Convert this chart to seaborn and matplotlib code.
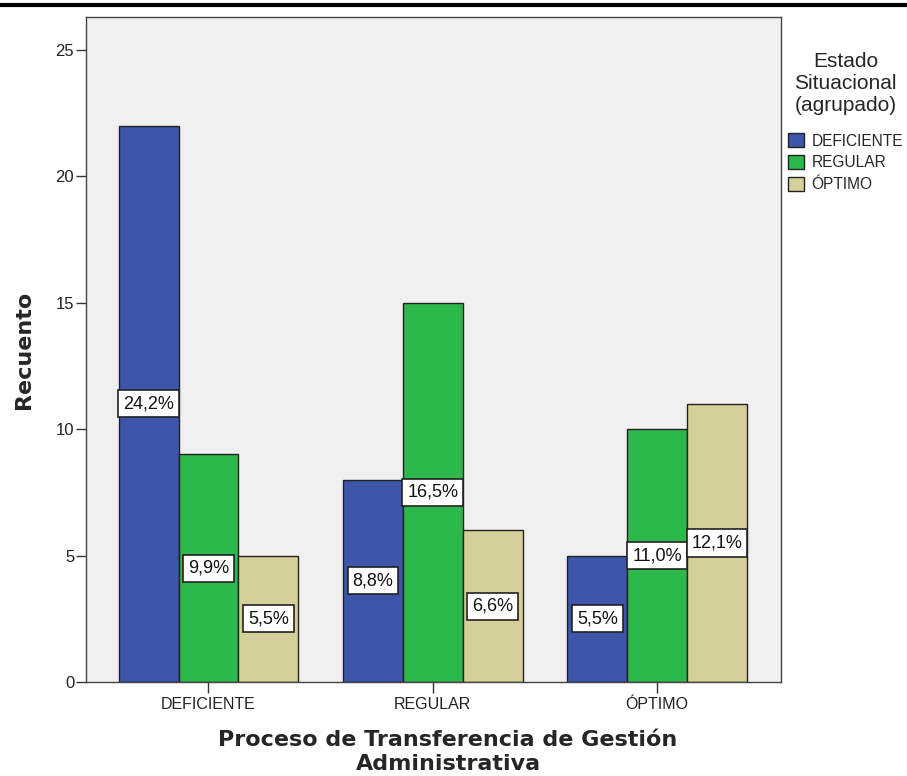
import pandas as pd
import numpy as np
import matplotlib
matplotlib.use("Agg")
import matplotlib.pyplot as plt
import seaborn as sns
from matplotlib.lines import Line2D

# data
categorias = ["DEFICIENTE", "REGULAR", "ÓPTIMO"]
estado = ["DEFICIENTE", "REGULAR", "ÓPTIMO"]
recuento_deficiente = [22, 8, 5]
recuento_regular = [9, 15, 10]
recuento_optimo = [5, 6, 11]
pct_deficiente = ["24,2%", "8,8%", "5,5%"]
pct_regular = ["9,9%", "16,5%", "11,0%"]
pct_optimo = ["5,5%", "6,6%", "12,1%"]
colores = ["#3d56aa", "#2db84b", "#d5cf99"]

df = pd.DataFrame({
    "proceso": categorias * 3,
    "estado": [estado[0]] * 3 + [estado[1]] * 3 + [estado[2]] * 3,
    "recuento": recuento_deficiente + recuento_regular + recuento_optimo,
})
etiquetas = [pct_deficiente, pct_regular, pct_optimo]

sns.set_style("white")
plt.rcParams["font.family"] = ["Liberation Sans", "DejaVu Sans"]

fig = plt.figure(figsize=(9.07, 7.76), dpi=100)
ax = fig.add_axes([0.0948, 0.1211, 0.7663, 0.857])
ax.set_facecolor("#f0f0f0")

sns.barplot(data=df, x="proceso", y="recuento", hue="estado", order=categorias,
            hue_order=estado, palette=colores, width=0.8, saturation=1,
            edgecolor="#222222", linewidth=1, ax=ax)

for cont, labs in zip(ax.containers, etiquetas):
    ax.bar_label(cont, labels=labs, label_type="center", fontsize=13,
                 color="#111111",
                 bbox=dict(boxstyle="square,pad=0.28", fc="white", ec="#222222", lw=1.2))

ax.set_ylim(0, 26.3)
ax.set_xlim(-0.546, 2.552)
ax.set_yticks([0, 5, 10, 15, 20, 25])
ax.tick_params(axis="y", direction="out", length=7.5, width=1, color="#333333",
               labelsize=12, labelcolor="#222222", left=True, pad=1)
ax.tick_params(axis="x", direction="out", length=8, width=1, color="#333333",
               labelsize=11.5, labelcolor="#222222", bottom=True, pad=3)
for s in ax.spines.values():
    s.set_color("#444444")
    s.set_linewidth(1)

ax.set_ylabel("Recuento", fontsize=16, fontweight="bold", labelpad=15.5,
              family="DejaVu Sans")
ax.set_xlabel("Proceso de Transferencia de Gestión\nAdministrativa", fontsize=16,
              fontweight="bold", labelpad=13, linespacing=1.2, family="DejaVu Sans",
              x=0.521)

leg = ax.legend(title="Estado\nSituacional\n(agrupado)", loc="upper left",
                bbox_to_anchor=(0.8688, 0.933), bbox_transform=fig.transFigure,
                frameon=False, fontsize=11.2, title_fontsize=15, handlelength=1.05,
                handleheight=1.05, handletextpad=0.45, labelspacing=0.4,
                borderaxespad=0, borderpad=0)
leg.get_title().set_multialignment("center")
leg.get_title().set_linespacing(1.2)
leg._legend_box.align = "center"
leg._legend_box.sep = 13
for h in leg.legend_handles:
    h.set_edgecolor("#222222")

# thick rule at the very top
fig.add_artist(Line2D([0, 1], [0.9932, 0.9932], transform=fig.transFigure,
                      color="black", linewidth=3))

fig.savefig("out.png", dpi=100)
